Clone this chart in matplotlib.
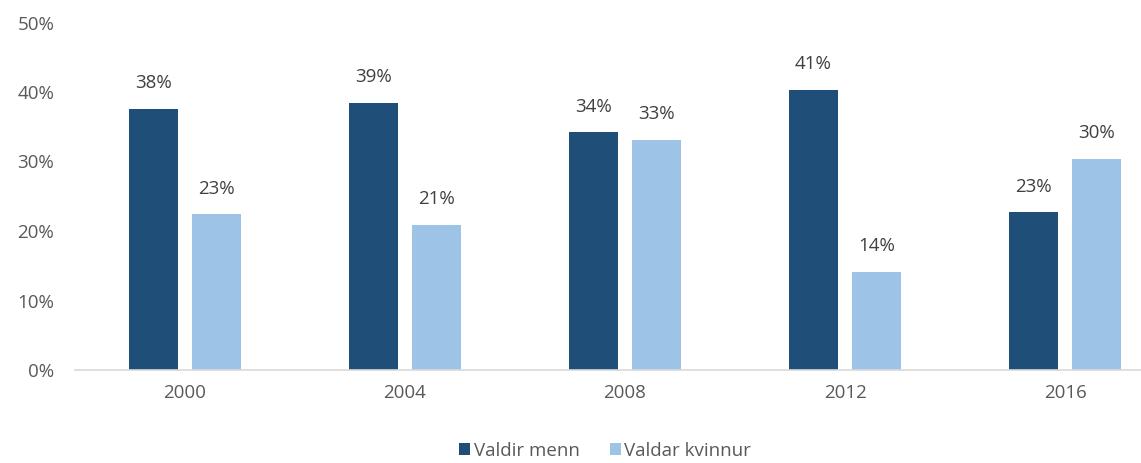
import matplotlib
matplotlib.use("Agg")
import matplotlib.pyplot as plt
import numpy as np

years = ["2000", "2004", "2008", "2012", "2016"]
men = [37.6, 38.4, 34.2, 40.3, 22.7]
women = [22.4, 20.9, 33.1, 14.1, 30.4]
men_labels = ["38%", "39%", "34%", "41%", "23%"]
women_labels = ["23%", "21%", "33%", "14%", "30%"]
series_names = ["Valdir menn", "Valdar kvinnur"]
yticks = [0, 10, 20, 30, 40, 50]

plt.rcParams['font.family'] = ['Open Sans', 'DejaVu Sans']

W, H = 1141, 463
fig = plt.figure(figsize=(W / 100, H / 100), dpi=100)
left, right = 75, 1175
bottom, top = 370, 22.5
ax = fig.add_axes([left / W, 1 - bottom / H, (right - left) / W, (bottom - top) / H])

x = np.arange(len(years))
bw = 0.222
off = 0.143
dark = "#1F4E79"
light = "#9DC3E6"
b1 = ax.bar(x - off, men, bw, color=dark, label=series_names[0])
b2 = ax.bar(x + off, women, bw, color=light, label=series_names[1])

fs = 13.5
for bars, labs in ((b1, men_labels), (b2, women_labels)):
    for r, lab in zip(bars, labs):
        ax.annotate(lab, (r.get_x() + r.get_width() / 2, r.get_height()),
                    xytext=(0, 18.5), textcoords="offset points",
                    ha="center", va="center", fontsize=fs, color="#404040")

ax.set_xlim(-0.5, 4.5)
ax.set_ylim(0, 50)
ax.set_yticks(yticks)
ax.set_yticklabels([f"{t}%" for t in yticks])
ax.set_xticks(x)
ax.set_xticklabels(years)
ax.tick_params(axis="both", length=0, labelsize=fs, labelcolor="#595959")
ax.tick_params(axis="y", pad=15)
ax.tick_params(axis="x", pad=10)
for s in ("top", "right", "left"):
    ax.spines[s].set_visible(False)
ax.spines["bottom"].set_color("#D9D9D9")
ax.spines["bottom"].set_linewidth(1.2)

leg = fig.legend(handles=[b1, b2], loc="center", bbox_to_anchor=(605 / W, 1 - 451 / H),
                 ncol=2, frameon=False, fontsize=fs, handlelength=0.6, handleheight=0.6,
                 handletextpad=0.2, columnspacing=1.6)
for t in leg.get_texts():
    t.set_color("#595959")

fig.savefig("out.png", dpi=100)
